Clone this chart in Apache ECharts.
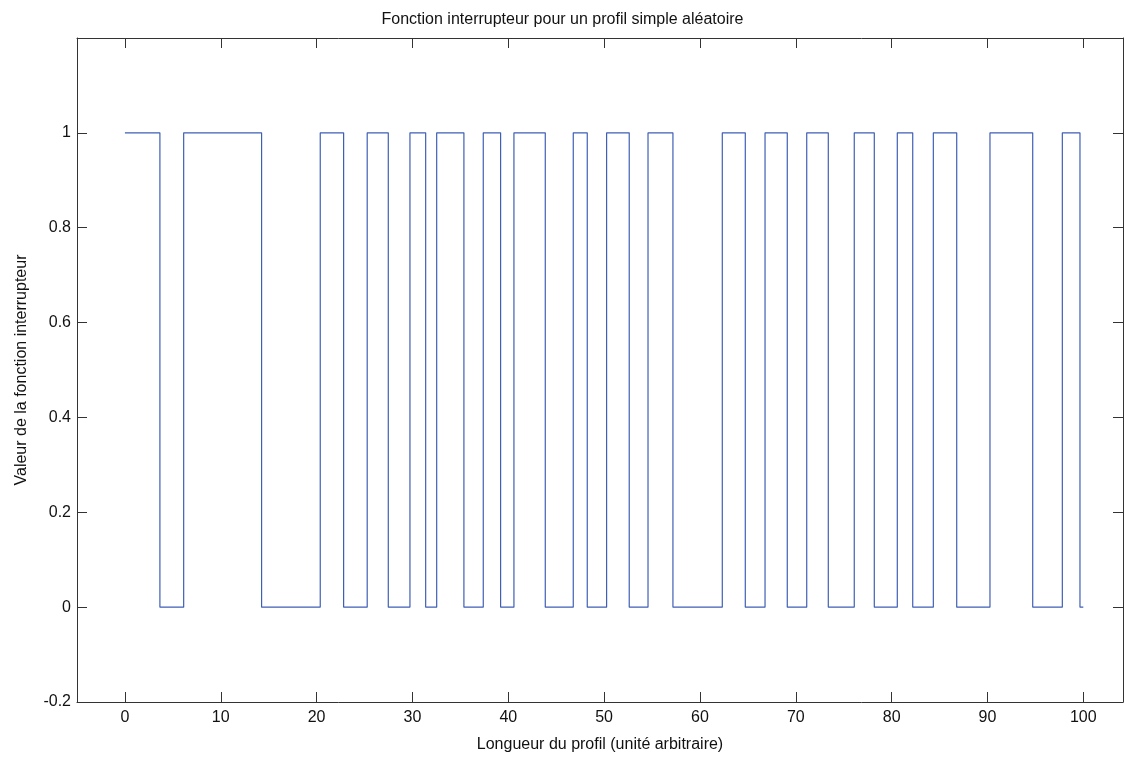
<!DOCTYPE html>
<html>
<head>
<meta charset="utf-8">
<script src="https://cdn.jsdelivr.net/npm/echarts@6/dist/echarts.min.js"></script>
<style>html,body{margin:0;padding:0;background:#fff}#c{width:1125px;height:758px}</style>
</head>
<body>
<div id="c"></div>
<script>
// Positions (profile length) where the switch function changes, and the level it takes from there on
const switchX = [0, 3.65, 6.13, 14.26, 20.38, 22.82, 25.28, 27.48, 29.74, 31.38, 32.53, 35.37, 37.39, 39.20, 40.59, 43.86, 46.78, 48.24, 50.26, 52.62, 54.58, 57.18, 62.33, 64.73, 66.79, 69.11, 71.14, 73.39, 76.10, 78.19, 80.59, 82.20, 84.35, 86.79, 90.26, 94.72, 97.81, 99.65, 100];
const levels  = [1, 0, 1, 0, 1, 0, 1, 0, 1, 0, 1, 0, 1, 0, 1, 0, 1, 0, 1, 0, 1, 0, 1, 0, 1, 0, 1, 0, 1, 0, 1, 0, 1, 0, 1, 0, 1, 0, 0];
const xTicks = [0, 10, 20, 30, 40, 50, 60, 70, 80, 90, 100];
const yTicks = [-0.2, 0, 0.2, 0.4, 0.6, 0.8, 1];
const titleText = 'Fonction interrupteur pour un profil simple aléatoire';
const xName = 'Longueur du profil (unité arbitraire)';
const yName = 'Valeur de la fonction interrupteur';

const font = 'Liberation Sans, Arial, Helvetica, sans-serif';
const axisCol = '#333';
const chart = echarts.init(document.getElementById('c'), null, {renderer: 'canvas'});
const data = switchX.map((x, i) => [x, levels[i]]);
const xRange = {min: -5, max: 104.14};
const yRange = {min: -0.2, max: 1.2};

chart.setOption({
  backgroundColor: '#fff',
  animation: false,
  title: {
    text: titleText, left: 'center', top: 7,
    textStyle: {fontFamily: font, fontSize: 16, fontWeight: 'normal', color: '#111'}
  },
  grid: {left: 77, right: 2, top: 38, bottom: 53},
  xAxis: [{
    type: 'value', position: 'bottom', ...xRange,
    name: xName, nameLocation: 'middle', nameGap: 35,
    nameTextStyle: {fontFamily: font, fontSize: 16, color: '#111'},
    axisLine: {show: true, onZero: false, lineStyle: {color: axisCol, width: 1}},
    axisTick: {show: true, inside: true, length: 10, customValues: xTicks, lineStyle: {color: axisCol}},
    axisLabel: {show: true, customValues: xTicks, margin: 8, fontFamily: font, fontSize: 16, color: '#111'},
    splitLine: {show: false}
  }, {
    type: 'value', position: 'top', ...xRange,
    axisLine: {show: true, onZero: false, lineStyle: {color: axisCol, width: 1}},
    axisTick: {show: true, inside: true, length: 10, customValues: xTicks, lineStyle: {color: axisCol}},
    axisLabel: {show: false},
    splitLine: {show: false}
  }],
  yAxis: [{
    type: 'value', position: 'left', ...yRange,
    name: yName, nameLocation: 'middle', nameGap: 47,
    nameTextStyle: {fontFamily: font, fontSize: 16, color: '#111'},
    axisLine: {show: true, onZero: false, lineStyle: {color: axisCol, width: 1}},
    axisTick: {show: true, inside: true, length: 10, customValues: yTicks, lineStyle: {color: axisCol}},
    axisLabel: {show: true, customValues: yTicks, margin: 6, fontFamily: font, fontSize: 16, color: '#111'},
    splitLine: {show: false}
  }, {
    type: 'value', position: 'right', ...yRange,
    axisLine: {show: true, onZero: false, lineStyle: {color: axisCol, width: 1}},
    axisTick: {show: true, inside: true, length: 10, customValues: yTicks, lineStyle: {color: axisCol}},
    axisLabel: {show: false},
    splitLine: {show: false}
  }],
  series: [{
    type: 'line', step: 'end', data: data,
    xAxisIndex: 0, yAxisIndex: 0,
    showSymbol: false, symbol: 'none',
    lineStyle: {color: '#3f5fb5', width: 1.2},
    clip: true
  }]
});
</script>
</body>
</html>
